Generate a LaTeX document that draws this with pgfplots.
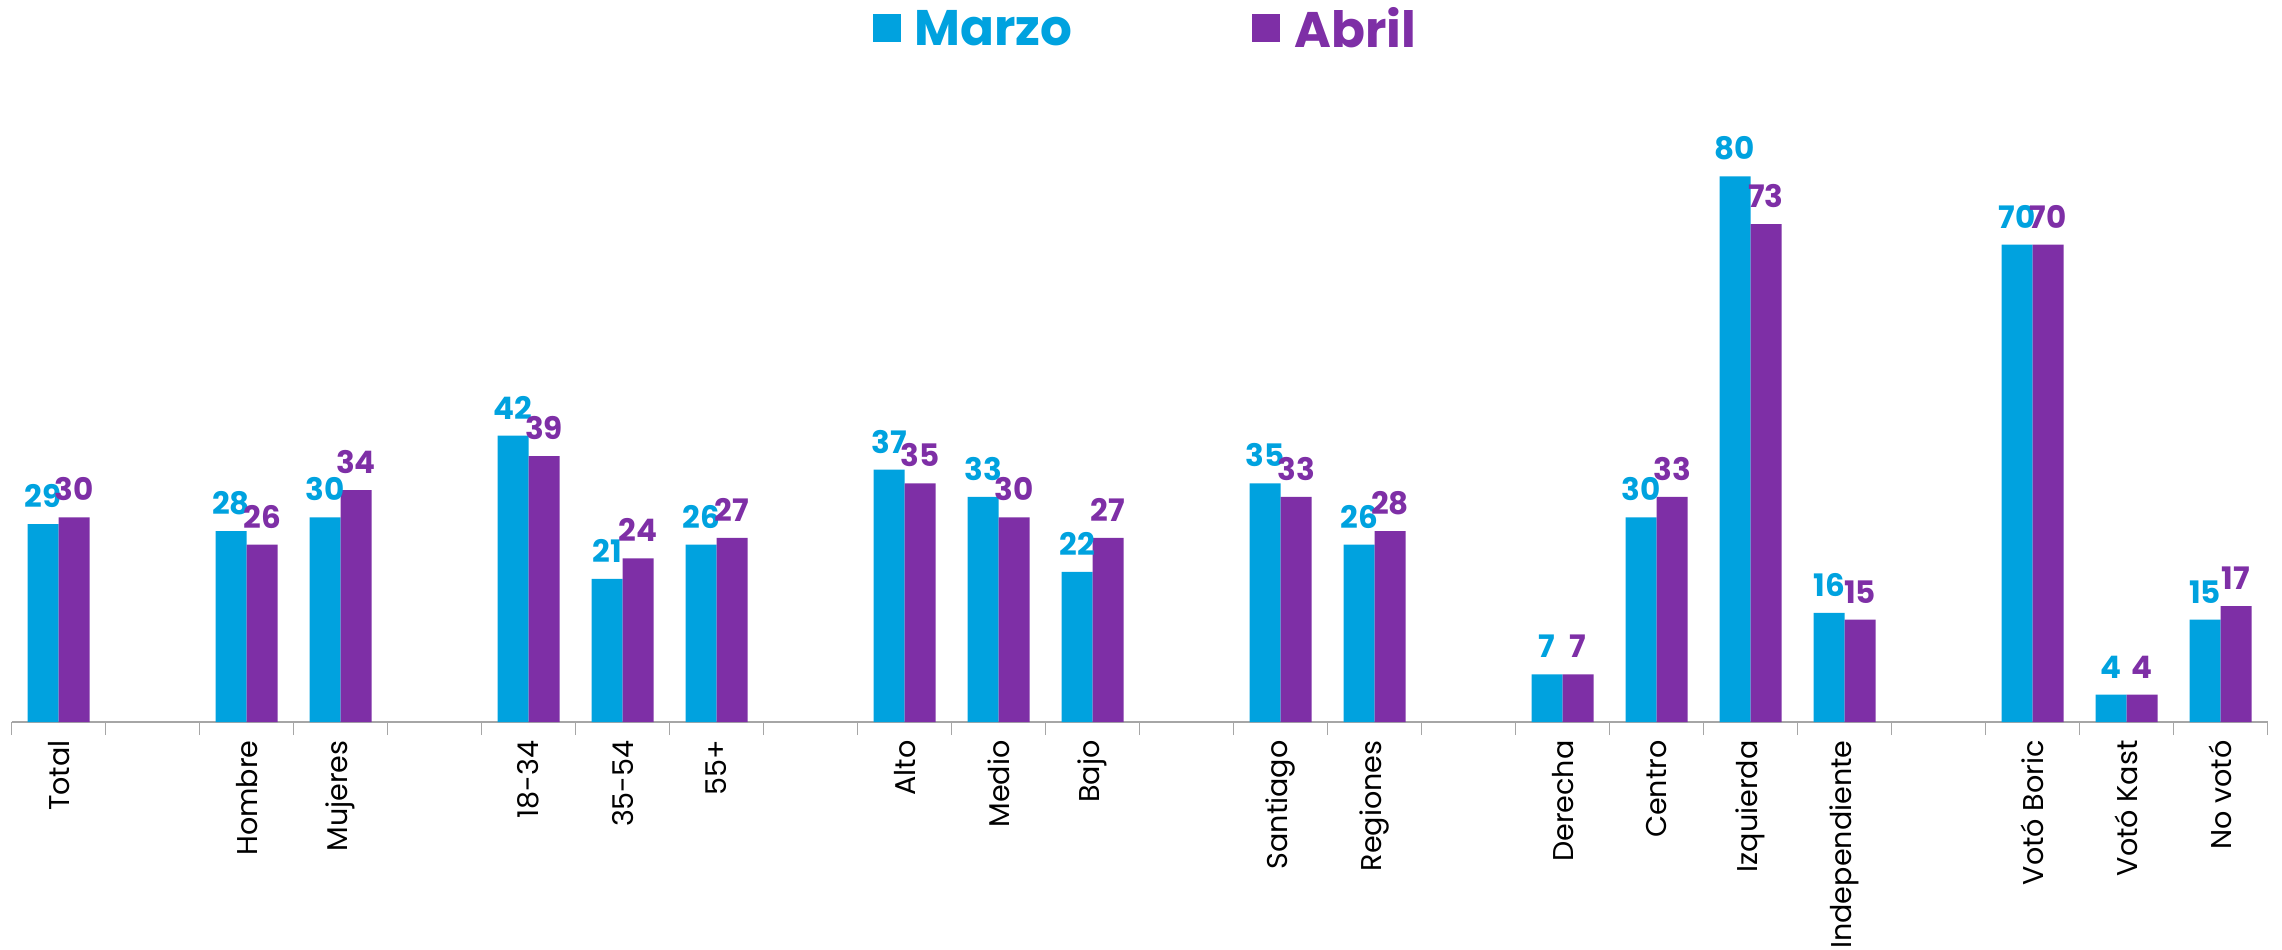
\documentclass[border=0pt]{standalone}
\usepackage{fontspec}
\setmainfont{Poppins}
\usepackage{pgfplots}
\pgfplotsset{compat=1.18}

\definecolor{marzo}{HTML}{00A2DF}
\definecolor{abril}{HTML}{7E2FA6}
\definecolor{axisgray}{HTML}{A6A6A6}

% x positions leave empty slots between groups
\pgfplotstableread{
x  marzo abril
0  29 30
2  28 26
3  30 34
5  42 39
6  21 24
7  26 27
9  37 35
10 33 30
11 22 27
13 35 33
14 26 28
16 7  7
17 30 33
18 80 73
19 16 15
21 70 70
22 4  4
23 15 17
}\datatable

\begin{document}
\begin{tikzpicture}
\begin{axis}[
    scale only axis,
    width=1128pt, height=341pt,
    xmin=-0.5, xmax=23.5,
    ymin=0, ymax=100,
    ybar, bar width=0.33,
    axis x line*=bottom,
    axis y line=none,
    axis line style={axisgray, line width=0.75pt},
    xtick={0,2,3,5,6,7,9,10,11,13,14,16,17,18,19,21,22,23},
    xticklabels={Total,Hombre,Mujeres,18-34,35-54,55+,Alto,Medio,Bajo,Santiago,Regiones,Derecha,Centro,Izquierda,Independiente,Votó Boric,Votó Kast,No votó},
    major tick length=0pt,
    minor xtick={-0.5,0.5,...,23.5},
    minor tick length=6.5pt,
    tick align=outside,
    minor tick style={axisgray, line width=0.75pt},
    xticklabel style={rotate=90, anchor=east, inner sep=0pt, font=\fontsize{14.3}{17}\selectfont, text=black},
    xticklabel shift=9pt,
    clip=false,
    /pgf/number format/assume math mode=true,
    nodes near coords,
    nodes near coords style={anchor=south, inner sep=2pt, yshift=6pt, font=\fontsize{15.5}{18}\selectfont\bfseries},
    legend style={at={(0.503,1.016)}, anchor=center, draw=none, fill=none,
        font=\fontsize{25}{30}\selectfont\bfseries,
        /tikz/every odd column/.append style={column sep=5pt},
        /tikz/every even column/.append style={column sep=88pt}},
    legend columns=2,
    legend image code/.code={\fill[#1,draw=none] (0pt,-6.5pt) rectangle (14pt,7.5pt);},
]
\addplot[fill=marzo, draw=none, bar shift=-0.165, nodes near coords style={text=marzo}]
    table[x=x, y=marzo] {\datatable};
\addlegendentry{\textcolor{marzo}{Marzo}}
\addplot[fill=abril, draw=none, bar shift=0.165, nodes near coords style={text=abril}]
    table[x=x, y=abril] {\datatable};
\addlegendentry{\textcolor{abril}{Abril}}
\end{axis}
\pgfresetboundingbox
\path (-5.8pt,-113.5pt) rectangle (1135.2pt,361pt);
\end{tikzpicture}
\end{document}
